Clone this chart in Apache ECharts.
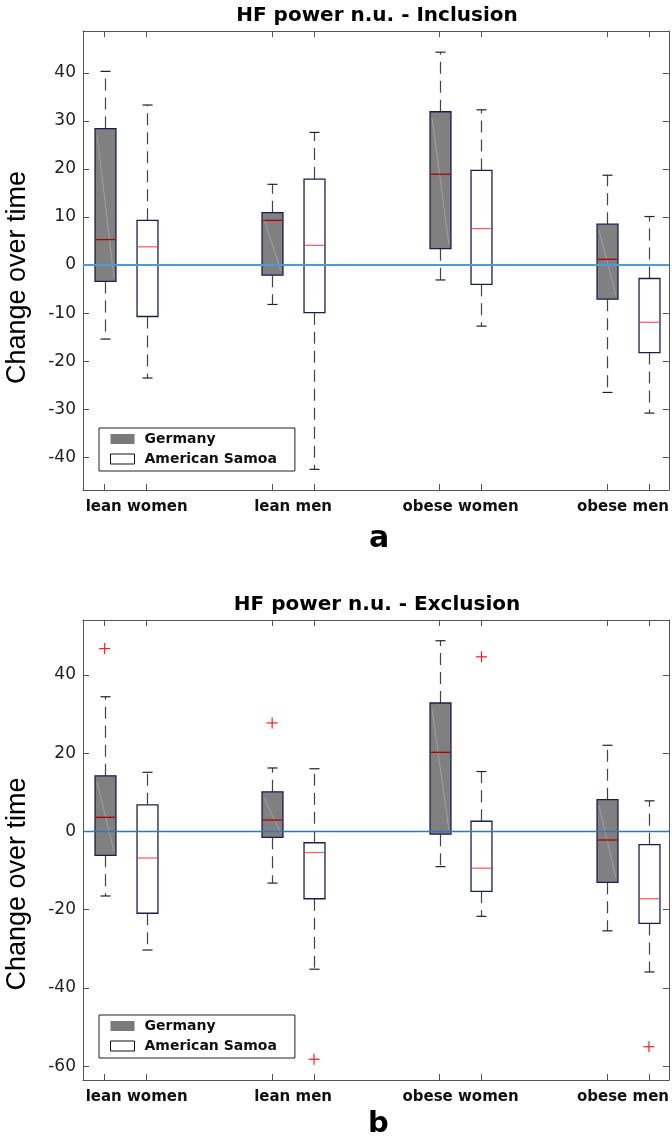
<!DOCTYPE html>
<html>
<head>
<meta charset="utf-8">
<script src="https://cdn.jsdelivr.net/npm/echarts@6/dist/echarts.min.js"></script>
<style>
  html, body { margin: 0; padding: 0; background: #fff; }
  #chart { width: 672px; height: 1138px; }
</style>
</head>
<body>
<div id="chart"></div>
<script>
// groups on the x axis
const groups = ['lean women', 'lean men', 'obese women', 'obese men']
const yTicksA = [-40, -30, -20, -10, 0, 10, 20, 30, 40]
const yTicksB = [-60, -40, -20, 0, 20, 40]

// a: Inclusion  (whisker low, q1, median, q3, whisker high)
const incGerLow = [-15.4, -8.2, -3.1, -26.5]
const incGerQ1 = [-3.4, -2.1, 3.4, -7.1]
const incGerMed = [5.3, 9.3, 18.9, 1.2]
const incGerQ3 = [28.4, 10.9, 31.9, 8.5]
const incGerHigh = [40.3, 16.8, 44.3, 18.7]
const incSamLow = [-23.5, -42.5, -12.7, -30.8]
const incSamQ1 = [-10.7, -9.9, -4.0, -18.2]
const incSamMed = [3.8, 4.1, 7.6, -11.9]
const incSamQ3 = [9.3, 17.9, 19.7, -2.8]
const incSamHigh = [33.3, 27.6, 32.3, 10.1]

// b: Exclusion
const excGerLow = [-16.5, -13.2, -9.0, -25.4]
const excGerQ1 = [-6.1, -1.5, -0.7, -13.0]
const excGerMed = [3.6, 2.9, 20.2, -2.2]
const excGerQ3 = [14.2, 10.1, 32.8, 8.1]
const excGerHigh = [34.4, 16.2, 48.7, 22.0]
const excSamLow = [-30.3, -35.2, -21.7, -35.9]
const excSamQ1 = [-20.9, -17.2, -15.3, -23.5]
const excSamMed = [-6.8, -5.4, -9.4, -17.2]
const excSamQ3 = [6.8, -2.9, 2.6, -3.4]
const excSamHigh = [15.1, 16.0, 15.3, 7.8]
// outliers: [group index, value]
const excGerOut = [[0, 46.7], [1, 27.7]]
const excSamOut = [[1, -58.2], [2, 44.6], [3, -55.0]]

const SAMOA_OFFSET = 0.25
const BOX_W = 0.125
const CAP_W = 0.06
const X_MIN = 0.8706, X_MAX = 4.369
const labelPos = [1.191, 2.125, 3.125, 4.095]
const tickPos = []
groups.forEach((g, i) => { tickPos.push(i + 1, i + 1 + SAMOA_OFFSET) })

let chart = echarts.init(document.getElementById('chart'))

function boxData(offset, low, q1, med, q3, high) {
  return groups.map((g, i) => [i + 1 + offset, low[i], q1[i], med[i], q3[i], high[i]])
}
function outData(offset, arr) {
  return arr.map(o => [o[0] + 1 + offset, o[1]])
}

function boxRender(fill, medColor, diag) {
  return function (params, api) {
    let x = api.value(0)
    let lo = api.coord([x, api.value(1)])
    let q1 = api.coord([x, api.value(2)])
    let md = api.coord([x, api.value(3)])
    let q3 = api.coord([x, api.value(4)])
    let hi = api.coord([x, api.value(5)])
    let hw = api.size([BOX_W, 0])[0] / 2
    let cw = api.size([CAP_W, 0])[0] / 2
    let cx = Math.round(q1[0]) + 0.5
    let dash = { stroke: '#444', lineWidth: 1.2, lineDash: [12, 7] }
    let cap = { stroke: '#222', lineWidth: 1.2 }
    let children = [
      { type: 'line', shape: { x1: cx, y1: q3[1], x2: cx, y2: hi[1] }, style: dash },
      { type: 'line', shape: { x1: cx, y1: q1[1], x2: cx, y2: lo[1] }, style: dash },
      { type: 'line', shape: { x1: cx - cw, y1: hi[1], x2: cx + cw, y2: hi[1] }, style: cap },
      { type: 'line', shape: { x1: cx - cw, y1: lo[1], x2: cx + cw, y2: lo[1] }, style: cap },
      { type: 'rect', shape: { x: cx - hw, y: q3[1], width: hw * 2, height: q1[1] - q3[1] },
        style: { fill: fill, stroke: '#1c1c50', lineWidth: 1.3 } }
    ]
    if (diag) {
      children.push({ type: 'line',
        shape: { x1: cx - hw + 2, y1: q3[1] + 6, x2: cx + hw - 2, y2: q1[1] - 4 },
        style: { stroke: 'rgba(215,215,215,0.45)', lineWidth: 0.8 } })
    }
    children.push({ type: 'line', shape: { x1: cx - hw + 1, y1: md[1], x2: cx + hw - 1, y2: md[1] },
      style: { stroke: medColor, lineWidth: 1.3 } })
    return { type: 'group', children: children }
  }
}

function plusRender(params, api) {
  let p = api.coord([api.value(0), api.value(1)])
  let s = 5.5
  return { type: 'group', children: [
    { type: 'line', shape: { x1: p[0] - s, y1: p[1], x2: p[0] + s, y2: p[1] }, style: { stroke: '#ff1a1a', lineWidth: 1.2 } },
    { type: 'line', shape: { x1: p[0], y1: p[1] - s, x2: p[0], y2: p[1] + s }, style: { stroke: '#ff1a1a', lineWidth: 1.2 } }
  ] }
}

const axisCol = '#555'
function xAxes(grid) {
  return [
    { type: 'value', gridIndex: grid, min: X_MIN, max: X_MAX, position: 'bottom',
      axisLine: { onZero: false, lineStyle: { color: axisCol } },
      axisTick: { inside: true, length: 6, customValues: tickPos, lineStyle: { color: axisCol } },
      splitLine: { show: false },
      axisLabel: { customValues: labelPos, margin: 10,
        formatter: v => groups[Math.round(v - 1.125)],
        fontFamily: 'DejaVu Sans', fontWeight: 'bold', fontSize: 15, color: '#111' } },
    { type: 'value', gridIndex: grid, min: X_MIN, max: X_MAX, position: 'top',
      axisLine: { onZero: false, lineStyle: { color: axisCol } },
      axisTick: { inside: true, length: 6, customValues: tickPos, lineStyle: { color: axisCol } },
      splitLine: { show: false }, axisLabel: { show: false } }
  ]
}
function yAxes(grid, min, max, ticks) {
  return [
    { type: 'value', gridIndex: grid, min: min, max: max, position: 'left',
      axisLine: { show: true, onZero: false, lineStyle: { color: axisCol } },
      axisTick: { show: true, inside: true, length: 6, customValues: ticks, lineStyle: { color: axisCol } },
      splitLine: { show: false },
      axisLabel: { customValues: ticks, margin: 7, fontFamily: 'DejaVu Sans', fontSize: 17, color: '#222' } },
    { type: 'value', gridIndex: grid, min: min, max: max, position: 'right',
      axisLine: { show: true, onZero: false, lineStyle: { color: axisCol } },
      axisTick: { show: true, inside: true, length: 6, customValues: ticks, lineStyle: { color: axisCol } },
      splitLine: { show: false }, axisLabel: { show: false } }
  ]
}

function legendAt(top) {
  return {
    orient: 'vertical', left: 99, top: top, selectedMode: false,
    itemWidth: 24, itemHeight: 10, itemGap: 6, padding: [4, 18, 5, 11],
    borderColor: '#222', borderWidth: 1, backgroundColor: '#fff',
    textStyle: { fontFamily: 'DejaVu Sans', fontWeight: 'bold', fontSize: 14, color: '#111', lineHeight: 14, padding: [0, 0, 0, 5] },
    data: [
      { name: 'Germany', icon: 'rect', itemStyle: { color: '#7a7a7a', borderWidth: 0 } },
      { name: 'American Samoa', icon: 'rect', itemStyle: { color: '#fff', borderColor: '#111', borderWidth: 1 } }
    ]
  }
}

function zeroLine(color, width) {
  return { silent: true, symbol: 'none', label: { show: false },
    lineStyle: { color: color, width: width, type: 'solid' }, data: [{ yAxis: 0 }] }
}

function panelSeries(xi, yi, ger, sam, gerOut, samOut, zl) {
  let list = [
    { name: 'Germany', type: 'custom', xAxisIndex: xi, yAxisIndex: yi,
      itemStyle: { color: '#7a7a7a' }, renderItem: boxRender('#808080', '#b00000', true),
      encode: { x: 0, y: [1, 2, 3, 4, 5] }, data: ger, z: 3, markLine: zl },
    { name: 'American Samoa', type: 'custom', xAxisIndex: xi, yAxisIndex: yi,
      itemStyle: { color: '#fff' }, renderItem: boxRender('#ffffff', '#ff6060', false),
      encode: { x: 0, y: [1, 2, 3, 4, 5] }, data: sam, z: 2 }
  ]
  if (gerOut) list.push({ name: 'Germany', type: 'custom', xAxisIndex: xi, yAxisIndex: yi,
    renderItem: plusRender, encode: { x: 0, y: 1 }, data: gerOut, z: 4 })
  if (samOut) list.push({ name: 'American Samoa', type: 'custom', xAxisIndex: xi, yAxisIndex: yi,
    renderItem: plusRender, encode: { x: 0, y: 1 }, data: samOut, z: 4 })
  return list
}

const titleFont = { fontFamily: 'DejaVu Sans', fontWeight: 'bold', fontSize: 20, fill: '#000',
  textAlign: 'center', textVerticalAlign: 'middle' }
const yNameFont = { fontFamily: 'Liberation Sans', fontSize: 27, fill: '#000',
  textAlign: 'center', textVerticalAlign: 'middle' }
const panelFont = { fontFamily: 'DejaVu Sans', fontWeight: 'bold', fontSize: 30, fill: '#000',
  textAlign: 'center', textVerticalAlign: 'middle' }

let option = {
  animation: false,
  backgroundColor: '#fff',
  grid: [
    { left: 83, top: 31, width: 587, height: 459 },
    { left: 83, top: 620, width: 587, height: 460 }
  ],
  xAxis: [...xAxes(0), ...xAxes(1)],
  yAxis: [...yAxes(0, -46.8, 48.7, yTicksA), ...yAxes(1, -63.5, 54.0, yTicksB)],
  legend: [legendAt(428), legendAt(1015)],
  graphic: [
    { type: 'text', x: 377, y: 15.5, style: Object.assign({ text: 'HF power n.u. - Inclusion' }, titleFont) },
    { type: 'text', x: 377, y: 605, style: Object.assign({ text: 'HF power n.u. - Exclusion' }, titleFont) },
    { type: 'text', x: 18, y: 277.5, rotation: Math.PI / 2, style: Object.assign({ text: 'Change over time' }, yNameFont) },
    { type: 'text', x: 18, y: 884, rotation: Math.PI / 2, style: Object.assign({ text: 'Change over time' }, yNameFont) },
    { type: 'text', x: 379, y: 539, style: Object.assign({ text: 'a' }, panelFont) },
    { type: 'text', x: 378.5, y: 1124, style: Object.assign({ text: 'b' }, panelFont, { fontSize: 29 }) }
  ],
  series: [
    ...panelSeries(0, 0,
      boxData(0, incGerLow, incGerQ1, incGerMed, incGerQ3, incGerHigh),
      boxData(SAMOA_OFFSET, incSamLow, incSamQ1, incSamMed, incSamQ3, incSamHigh),
      null, null, zeroLine('#4f9bd6', 2)),
    ...panelSeries(2, 2,
      boxData(0, excGerLow, excGerQ1, excGerMed, excGerQ3, excGerHigh),
      boxData(SAMOA_OFFSET, excSamLow, excSamQ1, excSamMed, excSamQ3, excSamHigh),
      outData(0, excGerOut), outData(SAMOA_OFFSET, excSamOut), zeroLine('#2f78b8', 1.3))
  ]
}
chart.setOption(option)
</script>
</body>
</html>
